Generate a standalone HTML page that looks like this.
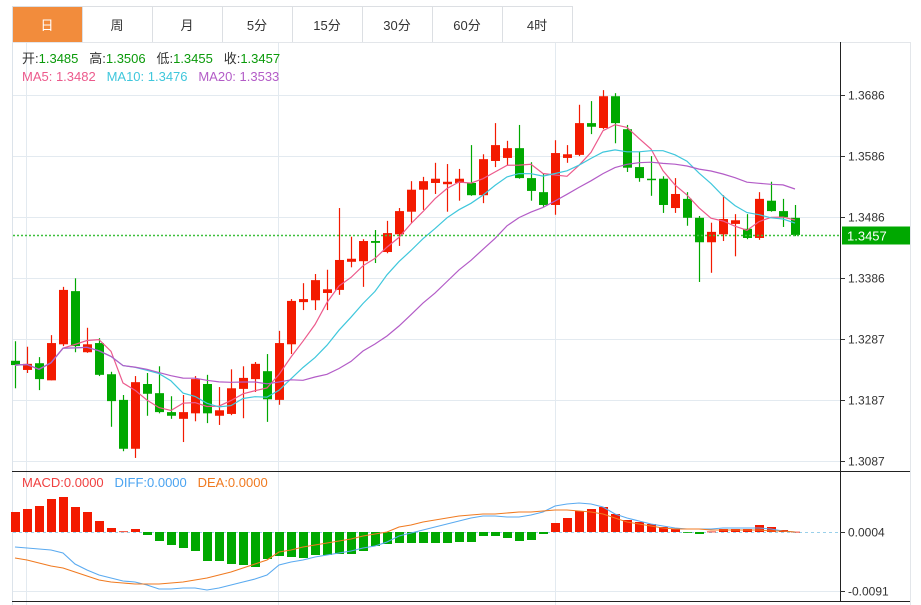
<!DOCTYPE html>
<html><head><meta charset="utf-8"><style>
body{margin:0;background:#fff;width:921px;height:605px;overflow:hidden;font-family:"Liberation Sans","Noto Sans CJK SC",sans-serif}
svg{position:absolute;left:0;top:0}
</style></head><body>
<svg id="c" width="921" height="605"></svg>
<script>
const tabs=["日","周","月","5分","15分","30分","60分","4时"];
const open=[1.3251,1.3236,1.3247,1.3219,1.3278,1.3365,1.3265,1.3280,1.3229,1.3187,1.3107,1.3213,1.3198,1.3167,1.3156,1.3165,1.3213,1.3161,1.3164,1.3205,1.3221,1.3234,1.3187,1.3278,1.3347,1.3350,1.3362,1.3367,1.3413,1.3414,1.3447,1.3429,1.3458,1.3495,1.3531,1.3542,1.3540,1.3542,1.3542,1.3522,1.3578,1.3583,1.3599,1.3550,1.3527,1.3506,1.3583,1.3588,1.3640,1.3632,1.3684,1.3630,1.3568,1.3549,1.3549,1.3501,1.3516,1.3485,1.3445,1.3458,1.3475,1.3467,1.3452,1.3513,1.3496,1.3485];
const high=[1.3283,1.3274,1.3257,1.3293,1.3372,1.3386,1.3305,1.3288,1.3233,1.3195,1.3226,1.3231,1.3242,1.3193,1.3195,1.3226,1.3228,1.3208,1.3237,1.3242,1.3249,1.3262,1.3300,1.3352,1.3378,1.3393,1.3400,1.3501,1.3454,1.3450,1.3465,1.3480,1.3501,1.3545,1.3552,1.3575,1.3573,1.3565,1.3604,1.3589,1.3640,1.3611,1.3637,1.3576,1.3557,1.3612,1.3604,1.3670,1.3676,1.3694,1.3689,1.3637,1.3593,1.3586,1.3553,1.3550,1.3527,1.3488,1.3477,1.3522,1.3491,1.3491,1.3527,1.3544,1.3516,1.3506];
const low=[1.3206,1.3231,1.3203,1.3219,1.3275,1.3265,1.3264,1.3226,1.3143,1.3103,1.3092,1.3161,1.3165,1.3156,1.3118,1.3152,1.3149,1.3146,1.3162,1.3157,1.3200,1.3151,1.3179,1.3262,1.3334,1.3334,1.3334,1.3359,1.3404,1.3372,1.3411,1.3427,1.3439,1.3477,1.3498,1.3524,1.3495,1.3513,1.3521,1.3509,1.3568,1.3571,1.3549,1.3513,1.3503,1.3490,1.3575,1.3586,1.3622,1.3630,1.3607,1.3560,1.3544,1.3521,1.3493,1.3493,1.3472,1.3380,1.3395,1.3447,1.3422,1.3450,1.3449,1.3495,1.3470,1.3455];
const close=[1.3244,1.3246,1.3221,1.3280,1.3367,1.3275,1.3278,1.3228,1.3185,1.3107,1.3216,1.3197,1.3167,1.3161,1.3167,1.3221,1.3165,1.3170,1.3206,1.3223,1.3246,1.3188,1.3280,1.3349,1.3352,1.3383,1.3368,1.3416,1.3418,1.3447,1.3444,1.3460,1.3496,1.3531,1.3545,1.3549,1.3544,1.3549,1.3522,1.3581,1.3604,1.3599,1.3550,1.3529,1.3506,1.3591,1.3589,1.3640,1.3634,1.3684,1.3640,1.3567,1.3550,1.3547,1.3506,1.3524,1.3485,1.3445,1.3462,1.3483,1.3481,1.3452,1.3516,1.3496,1.3486,1.3457];
const priceTicks=[1.3686,1.3586,1.3486,1.3386,1.3287,1.3187,1.3087];
const macdHist=[20,23,26,33,35,25,20,11,4,0.7,3,-3,-9,-13,-16,-19,-29,-29,-32,-33,-35,-27,-24,-25,-26,-23,-23,-22,-22,-19,-14,-12,-11,-11,-11,-11,-11,-10,-10,-4,-4,-6,-9,-8,-2,9,14,21,23,25,18,12,10,8,5,3,-0.7,-2,0.5,3,3,3,7,5,2,0.3];
const diff=[-15,-16,-17,-18,-21,-32,-38,-43,-46,-49,-50,-53,-57,-57,-56,-56,-58,-56,-53,-50,-47,-43,-33,-30,-28,-25,-23,-21,-19,-16,-14,-10,-4,-1,2,5,8,11,14,16,16,15,15,17,20,26,28,29,28,25,18,14,11,8,6,4,3,3,3,4,4,4,4,3,1,0];
const dea=[-26,-28,-31,-34,-36,-40,-44,-48,-50,-51,-52,-52,-52,-51,-50,-48,-46,-43,-40,-36,-32,-28,-20,-18,-15,-13,-11,-9,-7,-4,-2,0,5,7,10,12,14,16,17,18,18,19,20,20,21,22,22,21,20,18,14,10,8,6,4,3,3,3,2,2,2,2,2,1,1,0];
const macdTicks=[["0.0004",0],["-0.0091",-59]];

const NS="http://www.w3.org/2000/svg",svg=document.getElementById('c');
function el(t,a,p){const e=document.createElementNS(NS,t);for(const k in a)e.setAttribute(k,a[k]);(p||svg).appendChild(e);return e;}
const RED="#f31a00",GREEN="#00a800";
const x=i=>15+12*i;
const y=p=>95+(1.3686-p)*6110;
const MZ=532; const my=v=>MZ-v;

tabs.forEach((t,i)=>{
  const g=el('g',{});
  
  
  el('rect',{x:12+70*i+0.5,y:6.5,width:70,height:36,fill:i==0?"#f28c3c":"#fff",stroke:"#dcdfe3"},g);
  const tx=el('text',{x:47+70*i,y:30,'text-anchor':'middle','font-size':13,fill:i==0?"#fff":"#333"},g);tx.textContent=t;
});
el('line',{x1:12.5,y1:42,x2:12.5,y2:605,stroke:"#dce3ea"});
el('line',{x1:910.5,y1:42,x2:910.5,y2:605,stroke:"#e3e6ea"});
el('line',{x1:12,y1:42.5,x2:910,y2:42.5,stroke:"#e3e6ea"});
[26,278,555].forEach(v=>el('line',{x1:v+.5,y1:43,x2:v+.5,y2:605,stroke:"#e3eaf0"}));
priceTicks.forEach(p=>{
  const yy=Math.round(y(p))+.5;
  el('line',{x1:13,y1:yy,x2:840,y2:yy,stroke:"#e3eaf0"});
  el('line',{x1:840,y1:yy,x2:845,y2:yy,stroke:"#333"});
  const t=el('text',{x:848,y:yy+4,'font-size':12,fill:"#333"});t.textContent=p.toFixed(4);
  
});
for(let i=0;i<open.length;i++){
  const up=close[i]>=open[i],col=up?RED:GREEN;
  const g=el('g',{});
  
  
  el('line',{x1:x(i)+.5,y1:y(high[i]),x2:x(i)+.5,y2:y(low[i]),stroke:col,'stroke-width':1.2},g);
  const t=y(Math.max(open[i],close[i])),b=y(Math.min(open[i],close[i]));
  el('rect',{x:x(i)-4,y:t,width:9,height:Math.max(1.5,b-t),fill:col},g);
}
function ma(n){return close.map((c,i)=>{const s=close.slice(Math.max(0,i-n+1),i+1);return s.reduce((a,b)=>a+b,0)/s.length;});}
[[5,"#ec5a8c","ma5-line"],[10,"#3fc7dc","ma10-line"],[20,"#b35cc7","ma20-line"]].forEach(([n,c,nm])=>{
  const m=ma(n);
  const p=el('polyline',{points:m.map((v,i)=>x(i)+','+y(v).toFixed(1)).join(' '),fill:'none',stroke:c,'stroke-width':1.2});
  
});
const lp=close[close.length-1],ly=Math.round(y(lp))+.5;
const dl=el('line',{x1:13,y1:ly,x2:840,y2:ly,stroke:"#3cc03c",'stroke-width':1.5,'stroke-dasharray':'2,2'});

const lb=el('rect',{x:842,y:ly-9,width:68,height:18,fill:GREEN});

const lt=el('text',{x:847,y:ly+5,'font-size':13,fill:"#fff"});lt.textContent=lp.toFixed(4);
el('line',{x1:840.5,y1:42,x2:840.5,y2:601,stroke:"#222"});
el('line',{x1:12,y1:471.5,x2:910,y2:471.5,stroke:"#222"});
el('line',{x1:12,y1:601.5,x2:910,y2:601.5,stroke:"#222"});
function leg(parts,yy,name){const t=el('text',{x:22,y:yy,'font-size':13,style:'white-space:pre'});
 parts.forEach(([s,c])=>{const ts=el('tspan',{fill:c},t);ts.textContent=s;});}
leg([["开:","#333"],["1.3485   ","#0a9a0a"],["高:","#333"],["1.3506   ","#0a9a0a"],["低:","#333"],["1.3455   ","#0a9a0a"],["收:","#333"],["1.3457","#0a9a0a"]],63,'ohlc-legend');
leg([["MA5: 1.3482   ","#ec5a8c"],["MA10: 1.3476   ","#3fc7dc"],["MA20: 1.3533","#b35cc7"]],81,'ma-legend');
leg([["MACD:0.0000   ","#f04040"],["DIFF:0.0000   ","#4aa3f0"],["DEA:0.0000","#f07a20"]],487,'macd-legend');
el('line',{x1:13,y1:MZ+.5,x2:840,y2:MZ+.5,stroke:"#9ad0ea",'stroke-dasharray':'3,3'});
el('line',{x1:13,y1:591.5,x2:840,y2:591.5,stroke:"#e3eaf0"});
macdTicks.forEach(([s,v])=>{const yy=my(v)+.5;el('line',{x1:840,y1:yy,x2:845,y2:yy,stroke:"#333"});
 const t=el('text',{x:848,y:yy+4,'font-size':12,fill:"#333"});t.textContent=s;});
macdHist.forEach((v,i)=>{
  const r=el('rect',{x:x(i)-4,y:Math.min(my(v),MZ),width:9,height:Math.max(0.8,Math.abs(v)),fill:v>=0?RED:GREEN});
  
  
});
[[diff,"#5aaaf0","diff-line"],[dea,"#f07a20","dea-line"]].forEach(([a,c,nm])=>{
  const p=el('polyline',{points:a.map((v,i)=>x(i)+','+my(v)).join(' '),fill:'none',stroke:c,'stroke-width':1.1});
  
});
</script>
</body></html>
